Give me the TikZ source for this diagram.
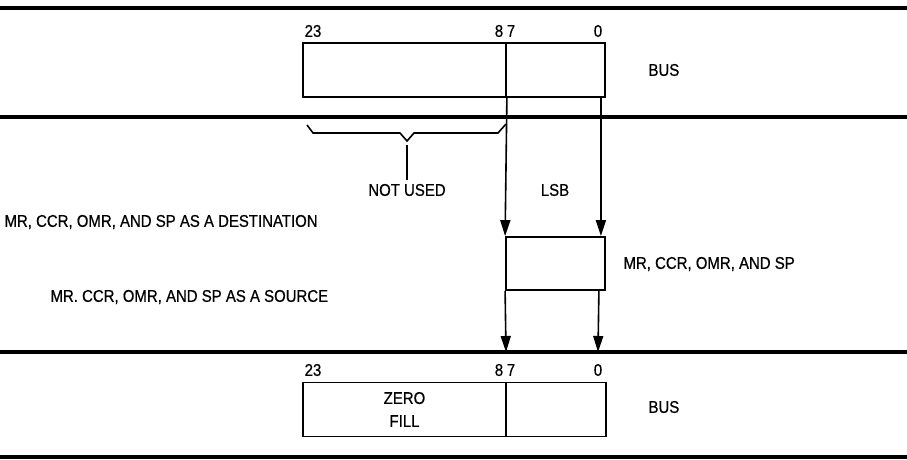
\documentclass[tikz,border=0pt]{standalone}
\usepackage{fontspec}
\setmainfont{Liberation Sans}[FakeStretch=0.88,FakeBold=0.6]
\usetikzlibrary{arrows.meta}

\begin{document}
\begin{tikzpicture}[x=1pt,y=-1pt,
  font=\fontsize{17}{23}\selectfont,
  campo/.style={draw, line width=1.8pt, minimum height=54pt, inner sep=0pt},
  barra/.style={line width=3.4pt},
  seta/.style={line width=1.6pt, -{Triangle[length=16pt,width=10pt]}}]
\useasboundingbox (0,0) rectangle (907,460);

% linhas do barramento
\draw[barra] (0,8) -- (907,8);
\draw[barra] (0,117) -- (907,117);
\draw[barra] (0,352) -- (907,352);
\draw[barra] (0,457) -- (907,457);

% palavra do barramento (origem)
\node[campo, minimum width=203pt] (althi) at (404.5,70) {};
\node[campo, minimum width=99pt] (altlo) at (555.5,70) {};
\node (n23a) at (313,31) {23};
\node (n8a) at (499,31) {8};
\node (n7a) at (511,31) {7};
\node (n0a) at (598,31) {0};
\node[anchor=west] (busa) at (645,70) {BUS};

% chave dos bits nao usados
\coordinate (chave) at (407,141);
\draw[line width=1.6pt] (307,125) -- (313,133) -- (400,133) -- (chave)
  -- (414,133) -- (498,133) -- (506,124);
\node (naousado) at (407,190) {NOT USED};
\draw[line width=1.6pt] (chave) ++(0,4) -- (naousado.north);
\node (lsb) at (555,190) {LSB};

% registrador
\node[campo, minimum width=99pt, minimum height=53pt] (reg) at (555.5,263.5) {};
\node[anchor=west] (regtxt) at (620,264) {MR, CCR, OMR, AND SP};
\node[anchor=west] (destino) at (1,222) {MR, CCR, OMR, AND SP AS A DESTINATION};
\node[anchor=west] (fonte) at (47,297) {MR. CCR, OMR, AND SP AS A SOURCE};

\draw[seta] (althi.south east) -- (reg.north west);
\draw[seta] ([xshift=-5pt]altlo.south east) -- ([xshift=-5pt]reg.north east);

% palavra do barramento (destino)
\coordinate (pa) at (506,352);
\coordinate (pb) at (598,352);
\draw[seta] (reg.south west) -- (pa);
\draw[seta] ([xshift=-7pt]reg.south east) -- (pb);

\node[campo, minimum width=203pt, align=center] (zero) at (404.5,409.5) {ZERO\\FILL};
\node[campo, minimum width=100pt] (baixo) at (556,409.5) {};
\node (n23b) at (313,370) {23};
\node (n8b) at (499,370) {8};
\node (n7b) at (511,370) {7};
\node (n0b) at (598,370) {0};
\node[anchor=west] (busb) at (645,407) {BUS};
\end{tikzpicture}
\end{document}
